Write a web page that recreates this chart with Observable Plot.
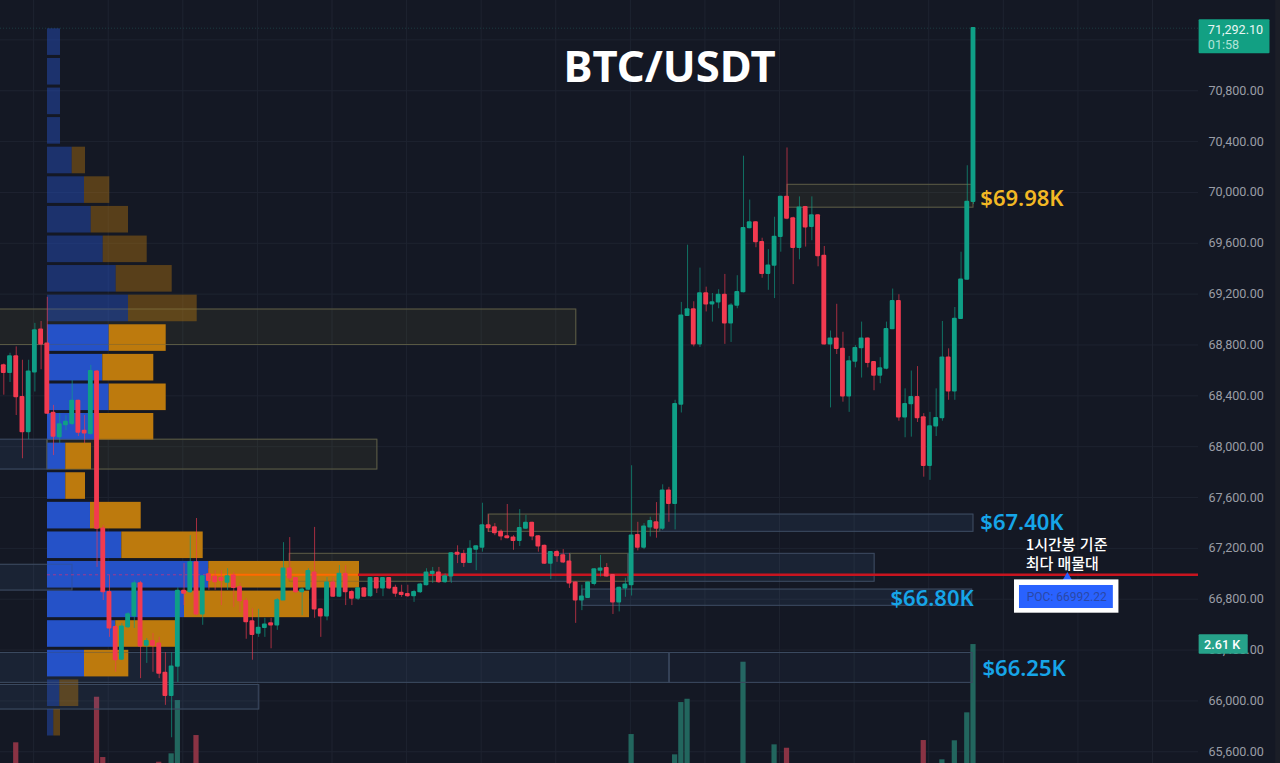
<!DOCTYPE html>
<html lang="ko">
<head>
<meta charset="utf-8">
<title>BTC/USDT</title>
<style>
html,body{margin:0;padding:0;background:#141824;overflow:hidden}
svg{display:block}
</style>
<script src="https://cdn.jsdelivr.net/npm/d3@7"></script>
<script src="https://cdn.jsdelivr.net/npm/@observablehq/plot@0.6"></script>
</head>
<body>
<div id="chart"></div>
<script>
const opens = [
68640,68580,68710,68390,68115,68585,68920,68810,68265,68075,
68170,68180,68360,68125,68100,68590,67355,66855,66580,66325,
66580,66665,66925,66435,66470,66450,66220,66040,66270,66865,
66855,67090,66680,66995,66975,66965,66930,66985,66895,66785,
66625,66530,66575,66610,66595,66790,67040,66965,66855,66875,
67010,66720,66665,66930,66820,67000,66855,66805,66885,66825,
66965,66885,66965,66890,66850,66840,66825,66855,66910,67000,
67010,66935,66980,67165,67155,67085,67190,67205,67380,67365,
67330,67295,67285,67260,67355,67400,67295,67220,67080,67170,
67145,67095,66930,66790,66810,66920,67025,67045,66990,66775,
66885,66910,67305,67205,67365,67405,67355,67655,67550,68330,
69030,69080,68805,69205,69120,69135,69195,68970,69110,69215,
69720,69765,69610,69360,69425,69650,69965,69795,69565,69885,
69730,69820,69500,68805,68850,68770,68395,68670,68775,68850,
68665,68560,68615,68925,69145,68230,68335,68390,68230,67850,
68160,68225,68700,68435,69005,69315,69925];
const closes = [
68580,68710,68390,68115,68590,68915,68805,68260,68080,68175,
68195,68360,68110,68105,68595,67355,66855,66570,66320,66585,
66680,66925,66430,66470,66435,66215,66040,66270,66865,66845,
67090,66680,66980,66945,66935,66945,66980,66890,66785,66620,
66520,66575,66600,66595,66790,67040,66965,66855,66875,67020,
66720,66665,66930,66820,67000,66855,66805,66885,66820,66965,
66885,66965,66885,66845,66835,66825,66855,66915,67010,67015,
66935,66980,67160,67150,67085,67195,67215,67380,67360,67320,
67295,67280,67260,67360,67400,67295,67215,67080,67170,67140,
67090,66925,66790,66820,66930,67035,67040,66980,66775,66890,
66915,67300,67205,67370,67415,67355,67655,67550,68335,69030,
69080,68805,69205,69120,69135,69195,68970,69110,69215,69720,
69765,69610,69360,69425,69650,69965,69795,69565,69880,69725,
69820,69500,68805,68850,68770,68395,68670,68775,68850,68660,
68560,68615,68925,69145,68230,68335,68390,68225,67850,68160,
68225,68700,68435,69005,69315,69925,71292.1];
const highs = [
68650,68735,68785,68680,68680,68970,68985,69175,68325,68260,
68245,68520,68365,68245,68640,68600,67380,66985,66595,66610,
66695,66945,66940,66490,66530,66500,66380,66380,66890,67080,
67300,67435,66985,67040,67025,67025,67040,67010,66925,66805,
66725,66720,66650,66650,66805,67245,67285,66970,66890,67040,
67365,66725,66970,66970,67065,67065,66870,66890,66890,66970,
66970,66970,66970,66910,66910,66910,66870,66925,67040,67050,
67050,67000,67165,67220,67185,67260,67220,67555,67465,67395,
67345,67545,67300,67505,67460,67405,67300,67225,67175,67185,
67190,67160,66935,66910,66935,67040,67145,67080,66995,66895,
66965,67850,67405,67395,67445,67560,67700,67680,68365,69135,
69585,69140,69405,69255,69205,69235,69355,69125,69345,70285,
69940,69770,69640,69550,69805,69970,70350,69805,69965,69890,
69965,69825,69575,68910,69120,68900,68710,68795,68980,68855,
68670,68700,68980,69240,69195,68455,68595,68630,68260,68270,
68455,68985,68770,69095,69530,70210,71292.1];
const lows = [
68405,68505,68245,67905,68055,68430,68605,68255,67930,68025,
68125,68165,68080,68025,68090,67050,66790,66500,66225,66320,
66570,66570,66175,66295,66225,66175,65965,65710,66145,66750,
66845,66670,66595,66870,66870,66750,66870,66735,66695,66485,
66320,66500,66500,66410,66555,66790,66945,66845,66670,66870,
66650,66500,66630,66815,66815,66750,66750,66790,66815,66815,
66845,66820,66875,66815,66815,66815,66775,66845,66905,66925,
66925,66925,66925,67080,67050,67080,67025,67170,67325,67300,
67260,67275,67185,67215,67350,67260,67170,67075,66955,67090,
67080,66885,66610,66710,66805,66905,66975,66975,66680,66700,
66815,66825,67180,67190,67290,67280,67340,67405,67345,68265,
69030,68785,68780,69060,68980,69085,68805,68820,69085,69210,
69715,69565,69325,69230,69165,69530,69785,69275,69470,69570,
69620,69415,68800,68305,68725,68350,68270,68620,68540,68620,
68440,68495,68605,68925,68200,68070,68075,68190,67760,67735,
68080,68200,68365,68365,69000,69310,69905];

// volume of the bars tall enough to show above the bottom edge
const volumeBars = [2,15,16,25,27,28,31,101,108,109,110,119,124,126,148,151,153,155,156];
const volumeValues = [853,1668,590,506,656,1609,983,1001,638,1573,1632,2294,817,756,894,549,889,1389,2610];

// volume profile rows, top to bottom
const profileTops = [71287,71054,70821,70589,70356,70123,69890,69657,69425,69192,68959,68726,68493,68261,68028,67795,67562,67329,67097,66864,66631,66398,66165,65933];
const profileBuy = [130,130,130,130,247,370,437,557,687,810,617,553,617,497,183,183,430,743,1613,1370,683,370,123,63];
const profileSell = [0,0,0,0,133,253,373,440,560,687,570,510,570,566,257,197,507,814,1507,1250,604,443,190,67];
const valueAreaFirst = 10, valueAreaLast = 21;
const profileRowSize = 232.8;

// supply / demand zones
const zoneStart = [126.1,-1,-1,7.03,78,105.6,46,71.9,91.2,100.5,-1,93.1,-1,107.1,-1];
const zoneEnd   = [156,92.1,7.03,60.1,105.6,156,71.9,91.2,100.5,140.1,11.05,155.8,107.1,155.85,41.1];
const zoneHigh  = [70060,69079,68055,68055,67466,67466,67157,67157,67157,67157,67071,66876,66377,66377,66125];
const zoneLow   = [69880,68800,67820,67820,67330,67330,66937,66937,66937,66937,66868,66748,66142,66142,65932];
const zoneKind  = ["y","y","b","y","y","b","y","b","y","b","b","b","b","d","b"];

const priceTicks = [65600,66000,66400,66800,67200,67600,68000,68400,68800,69200,69600,70000,70400,70800];
const gridPrices = [...priceTicks,71200];
const timeGrid = [4.8,16.8,28.8,40.8,52.8,64.8,76.8,88.8,100.8,112.8,124.8,136.8,148.8,160.8,172.8,184.8];

const poc = 66992.22;
const lastPrice = 71292.1;

const GREEN = "#0f9f86", RED = "#f23a50";
const SANS = "'Noto Sans','Noto Sans CJK KR',sans-serif";
const KR = "'Noto Sans CJK KR','Noto Sans',sans-serif";
const AXIS = "Roboto,sans-serif";

const candles = opens.map((o,i)=>({i,o,c:closes[i],h:highs[i],l:lows[i],up:closes[i]>=o}));
const volumes = volumeBars.map((i,k)=>({i,v:volumeValues[k],up:candles[i].up}));
const volumeBase = 65295, volumeToPrice = 0.44;
const profileStart = 7.03, profileUnit = 1/62.16;
const profile = profileTops.map((top,k)=>({
  top, bottom: top-profileRowSize, buy: profileBuy[k], sell: profileSell[k],
  bright: k>=valueAreaFirst && k<=valueAreaLast
}));
const zones = zoneStart.map((x1,k)=>({x1,x2:zoneEnd[k],high:zoneHigh[k],low:zoneLow[k],kind:zoneKind[k]}));
const zoneFill = {y:"#a0a040",b:"#5a8cc8",d:"#5a8cc8"};
const zoneAlpha = {y:.09,b:.10,d:.05};
const zoneLine = {y:"#5a5a45",b:"#3c4a60",d:"#3c4a60"};

function label(x,y,text,opt){
  return Plot.text([text],{x:()=>x,y:()=>y,text:d=>d,...opt});
}

const chart = Plot.plot({
  width:1280,height:763,
  marginTop:0,marginBottom:0,marginLeft:0,marginRight:82,
  style:{background:"#141824",fontFamily:SANS},
  x:{domain:[-0.531,192.2],axis:null},
  y:{domain:[65507.6,71510],range:[763,0],axis:null},
  color:{type:"identity"},
  marks:[
    Plot.ruleY(gridPrices,{stroke:"#1e2330",strokeWidth:1}),
    Plot.ruleX(timeGrid,{stroke:"#1e2330",strokeWidth:1}),
    Plot.ruleY([lastPrice],{stroke:"#1c3a40",strokeWidth:1,strokeDasharray:"1,2"}),
    Plot.rect([0],{x1:()=>204.6,x2:()=>206.5,y1:()=>65400,y2:()=>71600,fill:"#1b1e27"}),

    Plot.axisY(priceTicks,{anchor:"right",label:null,tickSize:0,tickPadding:10,
      tickFormat:d3.format(",.2f"),fill:"#9a9da6",fontSize:12.6,fontFamily:AXIS}),

    Plot.rect(volumes,{x1:d=>d.i-.42,x2:d=>d.i+.42,y1:()=>volumeBase,y2:d=>volumeBase+d.v*volumeToPrice,
      fill:d=>d.up?"#22665e":"#8a3344"}),

    Plot.rect(zones,{x1:"x1",x2:"x2",y1:"low",y2:"high",
      fill:d=>zoneFill[d.kind],fillOpacity:d=>zoneAlpha[d.kind],
      stroke:d=>zoneLine[d.kind],strokeWidth:1}),

    Plot.rect(profile,{x1:()=>profileStart,x2:d=>profileStart+d.buy*profileUnit,y1:d=>d.bottom,y2:d=>d.top,insetBottom:3,
      fill:"#2552c8",fillOpacity:d=>d.bright?1:.45}),
    Plot.rect(profile.filter(d=>d.sell>0),{x1:d=>profileStart+d.buy*profileUnit,x2:d=>profileStart+(d.buy+d.sell)*profileUnit,
      y1:d=>d.bottom,y2:d=>d.top,insetBottom:3,fill:"#bd7a0d",fillOpacity:d=>d.bright?1:.4}),

    Plot.rect(zones,{x1:"x1",x2:"x2",y1:"low",y2:"high",fill:"none",
      stroke:d=>zoneLine[d.kind],strokeOpacity:.35,strokeWidth:1}),

    Plot.ruleY([poc],{x1:()=>7.03,x2:()=>32.9,stroke:"#a03a90",strokeWidth:1,strokeDasharray:"3,3"}),
    Plot.ruleY([poc],{x1:()=>32.9,x2:()=>57.06,stroke:"#ff6a00",strokeWidth:2}),
    Plot.ruleY([poc],{x1:()=>57.06,x2:()=>192.2,stroke:"#c8141f",strokeWidth:2.4}),

    Plot.ruleX(candles,{x:"i",y1:"l",y2:"h",stroke:d=>d.up?GREEN:RED,strokeOpacity:.65,strokeWidth:1}),
    Plot.rect(candles,{x1:d=>d.i-.39,x2:d=>d.i+.39,y1:d=>Math.min(d.o,d.c)-5,y2:d=>Math.max(d.o,d.c)+5,
      fill:d=>d.up?GREEN:RED,rx:1}),

    label(107.1,70975,"BTC/USDT",{fill:"#ffffff",fontSize:43.6,fontWeight:700,fontFamily:SANS,textAnchor:"middle"}),
    label(157.1,69952,"$69.98K",{fill:"#f2b824",fontSize:22,fontWeight:600,fontFamily:SANS,textAnchor:"start"}),
    label(157.1,67403,"$67.40K",{fill:"#16a5e8",fontSize:22,fontWeight:600,fontFamily:SANS,textAnchor:"start"}),
    label(142.65,66805,"$66.80K",{fill:"#16a5e8",fontSize:22,fontWeight:600,fontFamily:SANS,textAnchor:"start"}),
    label(157.45,66255,"$66.25K",{fill:"#16a5e8",fontSize:22,fontWeight:600,fontFamily:SANS,textAnchor:"start"}),
    label(164.4,67222,"1시간봉 기준",{fill:"#ffffff",fontSize:15,fontWeight:500,fontFamily:KR,textAnchor:"start"}),
    label(164.4,67073,"최다 매물대",{fill:"#ffffff",fontSize:15,fontWeight:500,fontFamily:KR,textAnchor:"start"}),

    Plot.dot([0],{x:()=>171.1,y:()=>66965,r:4,symbol:"triangle",fill:"#2962ff"}),
    Plot.rect([0],{x1:()=>162.6,x2:()=>179.4,y1:()=>66690,y2:()=>66952,fill:"#ffffff"}),
    Plot.rect([0],{x1:()=>163.4,x2:()=>178.5,y1:()=>66727,y2:()=>66908,fill:"#2962ff"}),
    label(171,66817,"POC: 66992.22",{fill:"#2a48a8",fontSize:12,fontFamily:AXIS,textAnchor:"middle"}),

    Plot.rect([0],{x1:()=>192.3,x2:()=>203.7,y1:()=>71091,y2:()=>71358,fill:"#12a083",rx:1}),
    label(193.7,71282,"71,292.10",{fill:"#e8f6f3",fontSize:12.6,fontFamily:AXIS,textAnchor:"start"}),
    label(193.7,71164,"01:58",{fill:"#b0e3d8",fontSize:12.6,fontFamily:AXIS,textAnchor:"start"}),
    Plot.rect([0],{x1:()=>192.3,x2:()=>200.2,y1:()=>66367,y2:()=>66520,fill:"#26a28a",rx:1}),
    label(196,66444,"2.61 K",{fill:"#ffffff",fontSize:12.6,fontWeight:500,fontFamily:AXIS,textAnchor:"middle"})
  ]
});
document.getElementById("chart").append(chart);
</script>
</body>
</html>
